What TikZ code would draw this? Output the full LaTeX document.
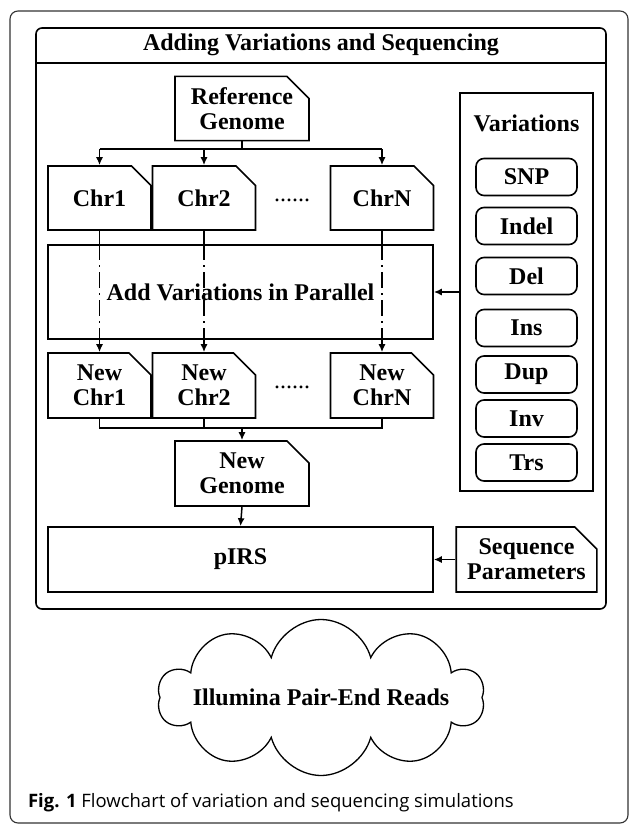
\documentclass[tikz,border=0pt]{standalone}
\usepackage{fontspec}
\setmainfont{Liberation Serif}
\newfontfamily\capfont{Open Sans}
\usetikzlibrary{arrows.meta,positioning,shapes.misc,shapes.symbols}

\begin{document}
\begin{tikzpicture}[
  x=1pt,y={(0pt,-1pt)},
  >={Latex[length=8pt,width=7pt]},
  font=\fontsize{24}{25}\selectfont\bfseries,
  line width=1.5pt,
  frame/.style={draw=black!80, line width=1.1pt, rounded corners=8pt},
  panel/.style={draw=black, line width=1.6pt, rounded corners=6pt},
  doc/.style={chamfered rectangle, chamfered rectangle corners=north east,
    chamfered rectangle xsep=11pt, chamfered rectangle ysep=11pt,
    draw, line width=1.6pt, align=center, inner sep=0pt},
  plain/.style={draw, rectangle, line width=1.6pt, align=center, inner sep=0pt},
  pill/.style={draw, rounded corners=8pt, line width=1.6pt, minimum width=101pt, minimum height=37pt, inner sep=0pt},
  dashdot/.style={line width=1.4pt, dash pattern=on 16pt off 5pt on 2pt off 5pt},
  caption/.style={font=\capfont\fontsize{18.5}{22}\selectfont, anchor=west}
]
\useasboundingbox (0,0) rectangle (630,824);

% Outer frame and panel
\draw[frame] (10,11) rectangle (628,823);
\draw[panel] (36,28) rectangle (606,609);
\draw[line width=1.6pt] (36,63) -- (606,63);
\node (title) at (321,45) {Adding Variations and Sequencing};

% ================= Genome split =================
\node[doc, minimum width=134pt, minimum height=63pt] (refgen) at (242,108.5) {Reference\\Genome};

\node[doc, minimum width=103pt, minimum height=64pt] (chr1) at (99.5,198) {Chr1};
\node[doc, minimum width=103pt, minimum height=64pt] (chr2) at (204,198) {Chr2};
\node[doc, minimum width=103pt, minimum height=64pt] (chrN) at (382,198) {ChrN};
\node[anchor=base, font=\fontsize{24}{25}\selectfont] (cdots) at (292,201) {......};

\node[plain, minimum width=385pt, minimum height=94pt] (addvar) at (240.5,292) {Add Variations in Parallel};

\node[doc, minimum width=103pt, minimum height=65pt] (nchr1) at (99.5,385.5) {New\\Chr1};
\node[doc, minimum width=103pt, minimum height=65pt] (nchr2) at (204,385.5) {New\\Chr2};
\node[doc, minimum width=103pt, minimum height=65pt] (nchrN) at (382,385.5) {New\\ChrN};
\node[anchor=base, font=\fontsize{24}{25}\selectfont] (ndots) at (292,388) {......};

\node[doc, minimum width=134pt, minimum height=65pt] (newgen) at (242,473.5) {New\\Genome};
\node[plain, minimum width=385pt, minimum height=65pt] (pirs) at (240.5,559.5) {pIRS};

% ================= Variations =================
\node[doc, minimum width=133pt, minimum height=398pt] (variations) at (526.5,292) {};
\node (varlabel) at (526.5,123) {Variations};
\foreach \v/\y in {SNP/177, Indel/226, Del/276, Ins/328, Dup/374.5, Inv/418.5, Trs/462.5}
  \node[pill] (v\v) at (526.5,\y) {\v};

\node[doc, minimum width=133pt, minimum height=65pt] (seqpar) at (526.5,559.5) {Sequence\\Parameters};

% ================= Connectors =================
\coordinate (split) at (242,149);
\draw (refgen.south) -- (split);
\draw (chr1 |- split) -- (chrN |- split);
\foreach \c in {chr1,chr2,chrN}
  \draw[->] (\c |- split) -- (\c.north);

\foreach \c/\n in {chr1/nchr1, chr2/nchr2, chrN/nchrN} {
  \draw (\c.south) -- (\c.south |- addvar.north);
  \draw[dashdot] (\c.south |- addvar.north) -- (\c.south |- addvar.south);
  \draw[->] (\c.south |- addvar.south) -- (\n.north);
}

\coordinate (merge) at (242,428);
\draw (nchr1.south) -- (nchr1 |- merge) -- (nchrN |- merge) -- (nchrN.south);
\draw (nchr2.south) -- (nchr2 |- merge);
\draw[->] (merge) -- (newgen.north);
\draw[->] (newgen.south) -- (pirs.north);
\draw[->] (variations.west) -- (addvar.east);
\draw[->] (seqpar.west) -- (pirs.east);

% ================= Output =================
\node[cloud, draw, line width=1.3pt, cloud puffs=10, cloud ignores aspect, inner sep=0pt,
  minimum width=326pt, minimum height=156pt] (reads) at (321,697.5)
  {\makebox[0pt]{Illumina Pair-End Reads}};

\node[caption] (cap) at (24,803) {\textbf{Fig. 1} Flowchart of variation and sequencing simulations};
\end{tikzpicture}
\end{document}
